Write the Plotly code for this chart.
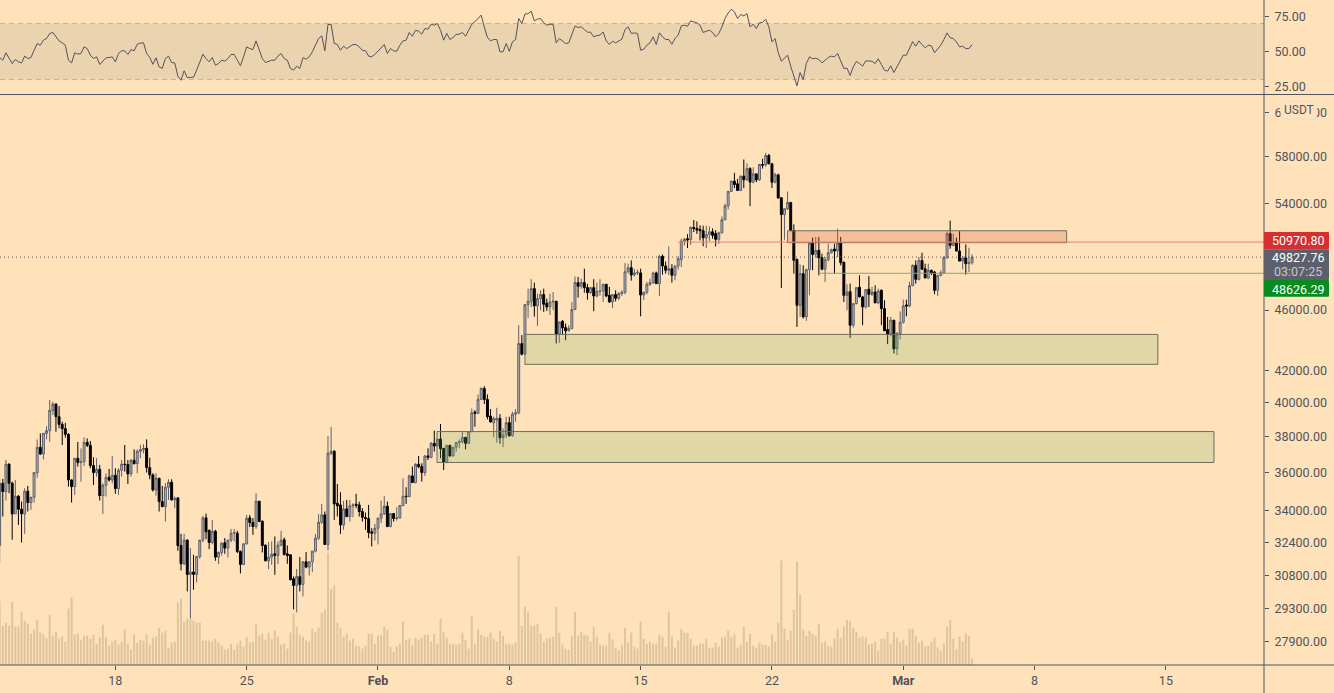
import pandas as pd
import plotly.graph_objects as go

# BTCUSDT 4h
opens = [32238,35414,34972,36446,35414,33815,34727,34053,33815,34990,
    34397,34675,35990,37388,37014,38186,38340,39533,39910,39157,
    38707,38455,38128,35592,35236,36776,36537,36592,37672,37501,
    36369,35990,36170,34762,35307,35735,35592,35843,35130,36116,
    36446,36428,35917,36665,36482,37163,37257,37332,36260,35862,
    35060,35681,34450,34190,35201,35467,34537,34640,32238,31360,
    32500,30860,30969,30860,31708,32500,33612,32990,32385,32943,
    31677,31900,32369,32110,32500,32843,32843,31950,31328,32320,
    33612,33376,33175,34467,33443,32255,31502,31677,31836,31756,
    32255,32516,31836,31788,30661,30352,30752,30398,31455,31203,
    31455,31965,32597,33392,33763,32287,37052,37163,34363,34275,
    33257,34069,33677,34224,34310,34275,33932,33625,33575,32908,
    32843,33090,33590,33813,34207,33173,33830,33575,33610,34241,
    34727,34710,35808,35450,36443,36316,35990,36905,36830,37615,
    37465,37860,37333,36555,37502,36905,37390,37653,37710,37955,
    37615,38283,39430,39353,40194,40865,40194,39195,38806,38961,
    39060,37935,38090,38806,38050,39310,39390,43735,43035,46380,
    46615,47510,46290,46800,47085,46475,46215,46565,46615,44355,
    45230,44800,44575,44730,46030,47945,47680,47945,47585,47225,
    47585,46990,47320,47345,47825,47035,46565,47085,46825,47155,
    47250,48745,49040,48500,48650,48650,47060,47250,47825,47945,
    48650,47870,49884,49165,48840,48965,48475,49165,49635,51053,
    51230,51170,52110,52030,51960,51850,51300,51550,51770,51630,
    51180,51690,52720,53843,55027,55884,55660,55105,56305,55995,
    56950,55800,56500,55995,57305,57275,58090,57360,55800,56420,
    54500,53130,53600,54115,51880,49660,46330,48600,45525,48890,
    50900,50035,50340,49785,48920,49635,50160,50440,50290,50900,
    49435,47035,47295,44960,46450,47610,46920,46215,47465,47105,
    47270,46500,47395,46100,44670,44350,45300,43383,44375,45160,
    46355,46285,47730,49210,48185,49580,48960,48280,48840,48715,
    47390,48475,48670,49785,51620,50720,50975,50285,49530,49760,
    49335,49410]
highs = [35645,35645,36683,36500,35500,35592,34790,34450,35148,35271,
    34690,36010,37842,38186,38186,38609,40155,40055,39955,39791,
    38863,38800,38190,35628,36776,37690,37332,37955,37900,37750,
    36830,36776,36410,35414,35953,36188,36903,36224,36224,36683,
    37520,36683,36740,37276,37276,37520,37560,37842,36810,35953,
    35953,35700,35271,35414,35628,35628,34710,34675,32810,32810,
    32549,32110,31788,31708,32516,33710,33830,33010,33510,33010,
    31950,32400,32597,32520,33059,33059,32960,32000,32352,33763,
    33763,33595,34885,34480,33480,32287,32402,32435,32679,32435,
    32960,32630,32238,31800,30767,31109,31677,31470,31917,31470,
    31965,32810,33798,34328,33935,38032,38551,37238,35378,34937,
    34483,34534,34534,34360,34850,34448,34103,33881,34275,33090,
    33307,33643,34500,34745,34448,33830,33850,34155,34275,35682,
    35202,35890,36316,36498,36905,36498,36960,37333,37690,38340,
    37860,38728,37350,37502,37520,37390,37690,37840,38280,37960,
    38283,39650,39551,40498,40928,41000,40498,39610,39156,39690,
    39310,38475,39156,39156,39450,39610,44960,44290,46400,47510,
    48190,47945,47155,47393,47510,46800,47155,47270,46640,45190,
    45300,45075,44960,46565,48400,48360,48235,48960,47850,47635,
    48190,47945,48190,47850,47850,47635,47085,47393,47270,47393,
    49385,49340,49585,48965,48900,48965,47300,48000,48230,48745,
    48745,50000,50030,49500,50642,49300,49165,49900,51232,51300,
    51590,52192,52700,52600,52280,52250,52250,52190,52030,51900,
    51770,52984,54006,55060,55920,56590,56080,56360,57740,57420,
    57070,57070,56560,57360,57800,58320,58235,57420,56590,56505,
    54530,53620,55020,54130,52350,49700,49280,49210,48970,50900,
    51310,51360,51360,50085,49835,50845,50470,50845,52010,51360,
    49500,47825,47870,46450,47630,48475,47000,47440,48425,47630,
    47750,47510,47450,46680,45525,45525,45320,44500,45900,46730,
    46730,48000,49285,49580,49835,50160,49335,49335,48900,48800,
    48475,48840,49910,51800,52650,51620,51310,51825,49910,50800,
    50540,50035]
lows = [31423,33679,34502,34885,32516,33815,33258,32385,32810,33935,
    34020,34397,35717,36959,36719,37842,37710,39255,38283,38475,
    37520,37937,35236,34397,34797,36320,35503,36351,37400,36224,
    35325,35771,34502,33815,34710,35503,35414,34850,34797,35771,
    36044,35378,35771,36430,35953,36776,37050,35990,35628,34972,
    34762,33935,34150,33426,34537,34500,34105,31982,31047,31300,
    30080,28880,30155,30491,31600,32400,32549,32062,32300,31502,
    31344,31750,31836,31660,32400,32435,31869,30907,31296,32280,
    33150,32761,33059,33400,31900,31470,31109,31312,30845,31344,
    32200,31756,31360,30583,29275,29143,30080,29853,31150,30813,
    30969,31900,32500,33300,32271,31998,36950,33510,33679,32810,
    33007,33643,33423,33643,34103,33677,33423,33007,32597,32191,
    32483,32288,33340,33760,33140,33140,33423,33473,33575,34200,
    34327,34675,35450,35414,36225,35503,35810,36682,36775,37146,
    37400,36775,36133,36500,36868,36868,37146,37333,37615,37275,
    37580,38250,38572,39310,40150,39913,39000,38840,37955,37650,
    37590,37400,37910,37990,37990,38865,39300,42950,42980,45460,
    46215,45540,44915,45985,45870,45940,45650,46000,43735,43780,
    44355,43950,44530,44690,46000,46870,47500,47225,46730,47150,
    45920,46900,47000,46570,46900,46500,46150,46600,46700,47000,
    47100,48600,48090,48400,48500,45565,46700,47100,47700,47850,
    47875,46990,48530,48600,48500,47945,48113,48900,49090,50700,
    50515,50760,51750,51600,51100,50650,50500,51050,51230,50640,
    50840,51640,52680,53550,54980,55300,55100,55050,55300,55900,
    53815,55700,55800,55900,56950,57100,57360,55300,55700,54470,
    47560,51150,53500,51800,48600,44845,45525,45415,45255,47040,
    48845,49785,48475,48845,47990,49500,50100,48600,49835,49210,
    46565,45985,44110,44800,46400,46920,44960,46100,46215,47000,
    46500,46400,44960,44580,43690,44200,43080,42970,44020,45070,
    45570,46200,47680,47870,48100,48900,48280,48200,48500,47115,
    46990,48400,48600,49700,50460,50650,50285,49530,48915,48525,
    48720,49260]
closes = [35414,34972,36446,35414,33815,34727,34053,33815,34990,34397,
    34675,35990,37388,37014,38186,38340,39533,39910,39157,38707,
    38455,38128,35592,35236,36776,36537,36592,37672,37501,36369,
    35990,36170,34762,35307,35735,35592,35843,35130,36116,36446,
    36428,35917,36665,36482,37163,37257,37332,36260,35862,35060,
    35681,34450,34190,35201,35467,34537,34623,32238,31360,32500,
    30860,30969,30860,31708,32500,33612,32910,32385,32926,31677,
    31900,32352,32110,32500,32843,32876,31950,31328,32320,33595,
    33376,33175,34467,33426,32238,31502,31677,31820,31756,32255,
    32500,31804,31756,30615,30352,30767,30398,31455,31203,31455,
    31965,32597,33392,33763,32287,37052,37163,34328,34224,33257,
    34069,33677,34224,34275,34258,33932,33643,33575,32876,32843,
    33090,33590,33813,34207,33173,33830,33575,33610,34241,34727,
    34710,35808,35450,36443,36316,35990,36905,36830,37615,37465,
    37860,37314,36555,37502,36905,37390,37653,37710,37955,37615,
    38283,39393,39353,40194,40865,40194,39156,38845,39058,39060,
    37935,38090,38806,38050,39310,39390,43735,43035,46380,46615,
    47510,46290,46800,47085,46405,46215,46565,46615,44355,45185,
    44780,44575,44730,46030,47945,47680,47945,47585,47225,47585,
    46990,47320,47345,47825,46990,46565,47085,46825,47155,47250,
    48745,49040,48500,48650,48700,47060,47250,47825,47945,48650,
    47870,49884,49165,48844,48965,48475,49165,49700,51053,51180,
    51130,52110,52030,51900,51850,51300,51550,51770,51500,51180,
    51690,52720,53843,55027,55884,55600,55105,56305,55995,56950,
    55800,56500,55995,57305,57250,58090,57360,55800,56420,54470,
    53130,53600,54115,51880,49590,46330,48600,45525,48890,50900,
    50035,50340,49785,48920,49635,50160,50390,50290,50900,49410,
    47035,47270,44960,46450,47585,46920,46215,47440,47105,47270,
    46500,47345,46100,44580,44350,45300,43383,44375,45160,46285,
    46285,47730,49210,48185,49580,48920,48280,48840,48640,47390,
    48475,48670,49785,51620,50720,50925,50285,49530,49760,49335,
    49410,49827.76]
volumes = [191,118,126,118,190,115,115,160,133,124,
    94,106,136,97,92,80,151,88,100,79,
    85,70,169,202,91,94,76,88,88,79,
    91,64,85,121,85,58,70,76,61,70,
    106,64,46,91,67,76,73,91,61,82,
    85,112,97,103,52,67,70,187,199,130,
    139,139,133,127,127,73,73,73,70,79,
    67,58,46,49,64,46,61,73,55,85,
    67,70,124,88,94,76,97,79,103,85,
    61,64,49,97,154,115,91,85,73,70,
    109,100,112,157,166,336,229,238,127,112,
    85,94,73,79,58,55,49,58,94,94,
    64,88,91,115,106,55,40,55,64,130,
    76,79,61,82,76,82,91,91,70,94,
    64,139,100,82,64,64,61,64,97,76,
    49,148,64,109,91,85,85,97,79,70,
    103,88,64,64,61,67,328,118,175,157,
    118,118,124,94,70,79,82,85,175,97,
    61,49,46,88,160,88,100,91,88,70,
    115,85,61,58,58,97,76,52,43,61,
    112,67,97,55,49,130,79,64,70,64,
    64,91,85,55,160,85,52,73,109,97,
    97,79,58,58,64,64,79,52,52,67,
    55,82,85,103,85,91,52,61,115,70,
    94,58,52,67,61,61,55,91,70,127,
    313,109,76,103,166,310,211,106,88,103,
    94,88,124,67,70,58,55,79,109,82,
    115,136,133,112,100,82,85,82,61,64,
    70,43,79,79,100,64,100,82,70,76,
    58,109,109,88,67,73,55,58,70,82,
    52,43,64,115,136,79,46,85,70,94,
    88,19]
rsi = [45.7,43.8,49.1,45.7,41.4,44.3,42.6,41.9,46.7,45.0,
    45.7,50.9,55.7,54.5,58.1,59.3,62.9,63.6,60.5,57.6,
    56.2,54.5,43.8,41.9,49.1,48.1,48.6,53.3,52.1,47.4,
    45.0,46.2,40.7,43.1,45.5,45.7,46.2,42.6,48.6,50.5,
    50.5,47.9,51.4,50.5,55.2,56.0,56.2,48.6,45.7,40.9,
    45.5,39.0,37.9,45.0,46.7,42.1,41.9,32.4,29.5,36.2,
    31.4,31.4,31.7,36.7,42.6,48.1,45.0,42.6,45.7,40.2,
    41.4,43.8,43.1,45.0,47.9,47.9,43.8,39.8,46.2,53.3,
    52.1,51.4,57.6,50.9,45.0,42.1,42.9,43.8,43.8,46.7,
    48.6,45.0,43.8,37.9,36.7,39.5,37.9,45.7,44.5,46.2,
    49.8,54.5,59.3,61.2,50.5,69.3,69.5,55.7,55.0,50.9,
    53.8,52.1,53.8,55.0,55.0,53.3,50.9,50.5,46.7,46.2,
    47.9,50.5,52.9,55.0,48.6,52.1,50.5,50.2,54.5,57.6,
    58.1,63.6,60.9,65.2,64.5,62.4,66.4,66.0,69.5,68.8,
    70.0,65.2,58.1,62.9,58.6,60.0,62.2,62.4,63.6,60.9,
    65.2,69.5,71.2,73.6,76.0,67.6,60.0,57.6,58.6,58.6,
    49.8,49.8,55.7,50.2,56.9,58.6,73.6,70.0,76.7,77.1,
    78.8,71.9,73.1,73.6,70.5,68.8,69.5,69.5,56.2,59.3,
    57.4,55.7,56.2,61.7,68.1,67.2,67.6,65.7,63.8,63.8,
    60.5,61.4,61.7,64.0,57.6,55.0,57.4,56.2,57.6,58.8,
    65.7,67.6,62.9,63.3,62.9,50.9,51.7,54.5,56.2,60.5,
    55.0,63.3,60.5,58.6,58.6,55.2,59.3,61.7,68.3,68.8,
    68.1,71.9,71.2,70.5,68.8,63.6,64.5,65.2,63.6,60.5,
    62.9,67.6,73.6,77.6,80.2,78.3,73.6,76.4,75.5,77.1,
    67.6,69.5,66.4,70.5,70.7,73.1,67.6,56.9,59.3,49.3,
    43.1,45.0,47.4,39.5,31.9,25.5,35.0,30.0,41.4,46.2,
    44.8,45.2,44.3,41.9,43.8,45.7,46.7,46.2,48.6,43.8,
    37.9,38.1,32.9,39.0,42.9,41.4,39.5,43.3,43.3,43.1,
    41.4,44.8,40.7,36.7,36.0,39.8,35.0,39.0,42.6,47.4,
    47.4,52.1,57.1,53.8,57.6,55.0,52.6,54.5,54.0,49.1,
    52.1,54.5,58.6,63.3,59.8,59.3,56.9,53.3,53.8,52.1,
    52.1,55.0]

price_ticks = [62000, 58000, 54000, 46000, 42000, 40000, 38000, 36000, 34000, 32400, 30800, 29300, 27900]
rsi_ticks = [75, 50, 25]
date_ticks = ["2021-01-18", "2021-01-25", "2021-02-01", "2021-02-08", "2021-02-15",
              "2021-02-22", "2021-03-01", "2021-03-08", "2021-03-15"]
date_labels = ["18", "25", "<b>Feb</b>", "8", "15", "22", "<b>Mar</b>", "8", "15"]

# zones: start, end, top price, bottom price
green_zones = [("2021-02-08 20:00", "2021-03-14 13:40", 44340, 42380),
               ("2021-02-04 03:30", "2021-03-17 13:30", 38290, 36543)]
orange_zone = ("2021-02-22 20:00", "2021-03-09 17:00", 51850, 50925)
red_level = ("2021-02-17 00:00", 50970.80)
green_level = ("2021-02-24 12:00", 48626.29)
last_price = 49827.76

W, H = 1334, 693
AXIS_X = 1264
TOP_Y = 94.5
BOTTOM_Y = 665
BG = "#ffe2ba"
INK = "#50535e"
FONT = "Roboto"
X_START, X_END = "2021-01-11 20:25", "2021-03-20 05:30"

dates = pd.date_range("2021-01-11 20:00", periods=len(opens), freq="4h")


def px(x):
    return x / W


def py(y):
    return 1 - y / H


def rbox(x0, y0, x1, y1, r):
    # rounded rectangle given in screen pixels
    return (f"M {px(x0 + r)} {py(y0)} L {px(x1 - r)} {py(y0)} Q {px(x1)} {py(y0)} {px(x1)} {py(y0 + r)} "
            f"L {px(x1)} {py(y1 - r)} Q {px(x1)} {py(y1)} {px(x1 - r)} {py(y1)} "
            f"L {px(x0 + r)} {py(y1)} Q {px(x0)} {py(y1)} {px(x0)} {py(y1 - r)} "
            f"L {px(x0)} {py(y0 + r)} Q {px(x0)} {py(y0)} {px(x0 + r)} {py(y0)} Z")


fig = go.Figure()
fig.add_trace(go.Bar(x=dates, y=volumes, yaxis="y3", marker=dict(color="#dfc59e", line=dict(width=0)), showlegend=False))
fig.add_trace(go.Candlestick(x=dates, open=opens, high=highs, low=lows, close=closes, yaxis="y2", showlegend=False,
                             whiskerwidth=0,
                             increasing=dict(line=dict(color="#5d606b", width=1), fillcolor="#b2b5be"),
                             decreasing=dict(line=dict(color="#000000", width=1), fillcolor="#000000")))
fig.add_trace(go.Scatter(x=dates, y=rsi, yaxis="y", mode="lines", line=dict(color=INK, width=1), showlegend=False))

shapes = []
# rsi band
shapes.append(dict(type="rect", xref="x", yref="y", x0=X_START, x1=X_END, y0=30, y1=70,
                   fillcolor="#ecd3af", line=dict(width=0), layer="below"))
for lvl in [30, 70]:
    shapes.append(dict(type="line", xref="x", yref="y", x0=X_START, x1=X_END, y0=lvl, y1=lvl,
                       line=dict(color="#bdb4a3", width=1, dash="5px,4px"), layer="below"))
# zones
for z in green_zones:
    shapes.append(dict(type="rect", xref="x", yref="y2", x0=z[0], x1=z[1], y0=z[3], y1=z[2],
                       fillcolor="rgba(120,174,94,0.22)", line=dict(color="#6f6d5f", width=1)))
shapes.append(dict(type="rect", xref="x", yref="y2", x0=orange_zone[0], x1=orange_zone[1], y0=orange_zone[3], y1=orange_zone[2],
                   fillcolor="rgba(212,90,58,0.25)", line=dict(color="#6f6d5f", width=1)))
# price levels
shapes.append(dict(type="line", xref="x", yref="y2", x0=red_level[0], x1=X_END, y0=red_level[1], y1=red_level[1],
                   line=dict(color="#ed806e", width=1)))
shapes.append(dict(type="line", xref="x", yref="y2", x0=green_level[0], x1=X_END, y0=green_level[1], y1=green_level[1],
                   line=dict(color="#82aa6e", width=1)))
shapes.append(dict(type="line", xref="x", yref="y2", x0=X_START, x1=X_END, y0=last_price, y1=last_price,
                   line=dict(color=INK, width=1, dash="1px,3px")))
# frame
shapes.append(dict(type="line", xref="paper", yref="paper", x0=0, x1=1, y0=py(TOP_Y), y1=py(TOP_Y), line=dict(color=INK, width=1)))
shapes.append(dict(type="line", xref="paper", yref="paper", x0=0, x1=1, y0=py(BOTTOM_Y), y1=py(BOTTOM_Y), line=dict(color=INK, width=1)))
shapes.append(dict(type="line", xref="paper", yref="paper", x0=px(AXIS_X), x1=px(AXIS_X), y0=0, y1=1, line=dict(color=INK, width=1)))
# last price labels
for y0, y1, col in [(232, 249.3, "#d5302f"), (249.3, 280, "#5d606b"), (280, 296.7, "#078c1f")]:
    shapes.append(dict(type="path", xref="paper", yref="paper", path=rbox(AXIS_X, y0, 1329, y1, 1), fillcolor=col, line=dict(width=0)))
shapes.append(dict(type="path", xref="paper", yref="paper", path=rbox(1281, 101, 1316.7, 119, 4),
                   fillcolor=BG, line=dict(color="#e6dfd5", width=1)))

annotations = []
for txt, y, col in [("50970.80", 241, "#ffffff"), ("49827.76", 257, "#ffffff"),
                    ("03:07:25", 271.7, "#c4c6cc"), ("48626.29", 289, "#ffffff")]:
    annotations.append(dict(text=txt, xref="paper", yref="paper", x=px(1298), y=py(y), xanchor="center", yanchor="middle",
                            showarrow=False, font=dict(family=FONT, size=12.5, color=col)))
annotations.append(dict(text="USDT", xref="paper", yref="paper", x=px(1299), y=py(110), xanchor="center", yanchor="middle",
                        showarrow=False, font=dict(family=FONT, size=12, color=INK)))

tick_style = dict(ticks="outside", ticklen=4, tickwidth=1, tickcolor=INK, showgrid=False, zeroline=False, showline=False,
                  tickfont=dict(family=FONT, size=12.5, color=INK))
fig.update_layout(
    width=W, height=H, margin=dict(l=0, r=0, t=0, b=0),
    paper_bgcolor=BG, plot_bgcolor=BG, showlegend=False, boxgap=0.12, bargap=0.35, boxmode="overlay",
    shapes=shapes, annotations=annotations,
    xaxis=dict(domain=[0, px(AXIS_X)], range=[X_START, X_END], type="date", rangeslider=dict(visible=False),
               tickmode="array", tickvals=date_ticks, ticktext=date_labels, anchor="y3", **tick_style),
    yaxis=dict(domain=[py(TOP_Y), 1], range=[19.3, 86.8], side="right", anchor="x", ticklabelstandoff=3,
               tickmode="array", tickvals=rsi_ticks, ticktext=[f"{v:.2f}" for v in rsi_ticks], **tick_style),
    yaxis2=dict(type="log", overlaying="y3", side="right", anchor="x", range=[4.4300, 4.8041], ticklabelstandoff=3,
                tickmode="array", tickvals=price_ticks, ticktext=[f"{v:.2f}" for v in price_ticks], **tick_style),
    yaxis3=dict(domain=[py(BOTTOM_Y), py(TOP_Y)], range=[0, 1711], visible=False, anchor="x"),
)

fig.write_html("out.html", config={"displayModeBar": False},
               post_script="document.body.style.margin='0';document.body.style.overflow='hidden';")
